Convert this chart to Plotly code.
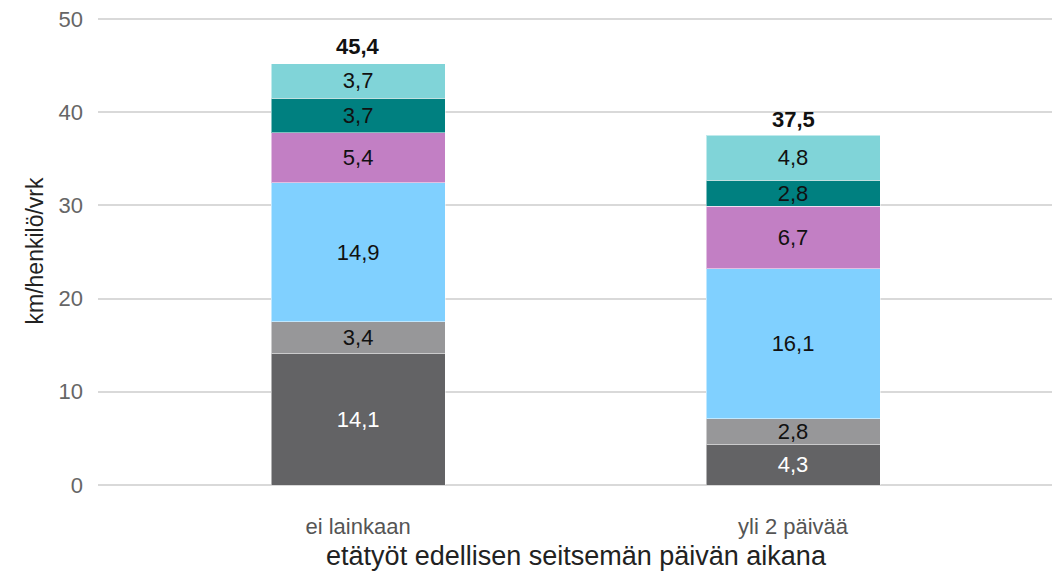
import plotly.graph_objects as go

categories = ["ei lainkaan", "yli 2 päivää"]
totals = [45.4, 37.5]
s1 = [14.1, 4.3]
s2 = [3.4, 2.8]
s3 = [14.9, 16.1]
s4 = [5.4, 6.7]
s5 = [3.7, 2.8]
s6 = [3.7, 4.8]

series = [s1, s2, s3, s4, s5, s6]
colors = ["#636365", "#979799", "#80d0ff", "#c27fc4", "#008080", "#80d4d8"]
text_colors = ["#ffffff", "#111111", "#111111", "#111111", "#111111", "#111111"]

FONT = "Liberation Sans, Arial"

def fmt(v):
    return f"{v:.1f}".replace(".", ",")

fig = go.Figure()
for vals, c, tc in zip(series, colors, text_colors):
    fig.add_trace(go.Bar(
        x=categories, y=vals, marker=dict(color=c, line=dict(color="rgba(255,255,255,0.5)", width=1)),
        width=0.4, text=[fmt(v) for v in vals], textposition="inside",
        insidetextanchor="middle", textangle=0, constraintext="none",
        textfont=dict(family=FONT, size=22, color=tc),
        showlegend=False, hoverinfo="skip",
    ))

for cat, tot in zip(categories, totals):
    fig.add_annotation(x=cat, y=tot, text=f"<b>{fmt(tot)}</b>", showarrow=False,
                       yanchor="bottom", yshift=1,
                       font=dict(family=FONT, size=22, color="#111111"))

fig.update_layout(
    barmode="stack",
    width=1060, height=576,
    margin=dict(l=90, r=14, t=9, b=99),
    paper_bgcolor="white", plot_bgcolor="white",
    font=dict(family=FONT, color="#222222"),
    uniformtext=dict(mode=False),
    xaxis=dict(
        range=[-0.598, 1.6], showgrid=False, showline=False, zeroline=False,
        tickfont=dict(size=22, color="#555555"), ticklabelstandoff=26,
        automargin=False,
        title=dict(text="etätyöt edellisen seitsemän päivän aikana", standoff=8,
                   font=dict(size=27, color="#222222")),
    ),
    yaxis=dict(
        range=[0, 50.2], tickvals=[0, 10, 20, 30, 40, 50], showgrid=True,
        gridcolor="#d9d9d9", gridwidth=1.5, zeroline=True, zerolinecolor="#d9d9d9",
        zerolinewidth=1.5, ticklabeloverflow="allow", automargin=False,
        tickfont=dict(size=22, color="#666666"), ticklabelstandoff=14,
        title=dict(text="km/henkilö/vrk", standoff=8, font=dict(size=23, color="#222222")),
    ),
)

fig.write_html("out.html")
